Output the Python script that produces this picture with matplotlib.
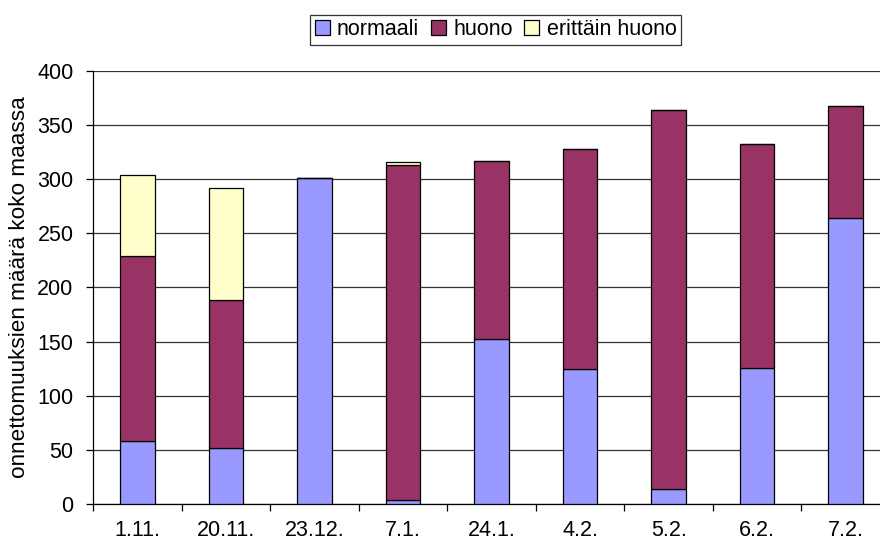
import numpy as np
import matplotlib.pyplot as plt

plt.rcParams['font.family'] = ['Liberation Sans', 'DejaVu Sans']

dates = ['1.11.', '20.11.', '23.12.', '7.1.', '24.1.', '4.2.', '5.2.', '6.2.', '7.2.']
normaali = [58, 52, 301, 4, 152, 125, 14, 126, 264]
huono = [171, 136, 0, 309, 165, 203, 350, 206, 103]
erittain_huono = [75, 104, 0, 3, 0, 0, 0, 0, 0]
labels = ['normaali', 'huono', 'erittäin huono']
colors = ['#9999FF', '#993366', '#FFFFCC']

fs = 15.5

fig = plt.figure(figsize=(8.8, 5.44), dpi=100)
ax = fig.add_axes([93/880, 40/544, 797/880, 433.3/544])

x = np.arange(len(dates))
w = 0.39
b1 = np.array(normaali)
b2 = b1 + np.array(huono)
ax.bar(x, normaali, w, color=colors[0], edgecolor='black', linewidth=0.9, label=labels[0], zorder=3)
ax.bar(x, huono, w, bottom=b1, color=colors[1], edgecolor='black', linewidth=0.9, label=labels[1], zorder=3)
ax.bar(x, erittain_huono, w, bottom=b2, color=colors[2], edgecolor='black', linewidth=0.9, label=labels[2], zorder=3)

ax.set_xlim(-0.5, len(dates) - 0.5)
ax.set_ylim(0, 400)
ax.set_yticks(np.arange(0, 401, 50))
ax.set_xticks(x)
ax.set_xticklabels(dates)
ax.set_xticks(np.arange(-0.5, len(dates), 1), minor=True)
ax.tick_params(axis='x', which='major', length=0, pad=11.5, labelsize=fs)
ax.tick_params(axis='x', which='minor', length=5, width=0.9, direction='out')
ax.tick_params(axis='y', length=5, width=0.9, direction='out', labelsize=fs, pad=9)
ax.grid(True, axis='y', color='#333333', linewidth=0.9, zorder=0)
for s in ['top', 'right']:
    ax.spines[s].set_visible(False)
for s in ['left', 'bottom']:
    ax.spines[s].set_linewidth(0.9)
ax.set_ylabel('onnettomuuksien määrä koko maassa', fontsize=16.2, labelpad=5)

leg = ax.legend(loc='center', bbox_to_anchor=((495.5 - 93) / 797, (504.3 - 30) / 433.3), ncol=3, fontsize=fs,
                frameon=True, fancybox=False, edgecolor='black', handlelength=0.7,
                handleheight=0.7, handletextpad=0.33, columnspacing=0.55,
                borderpad=0.2, borderaxespad=0)
leg.get_frame().set_linewidth(0.9)

plt.savefig('out.png', dpi=100)
